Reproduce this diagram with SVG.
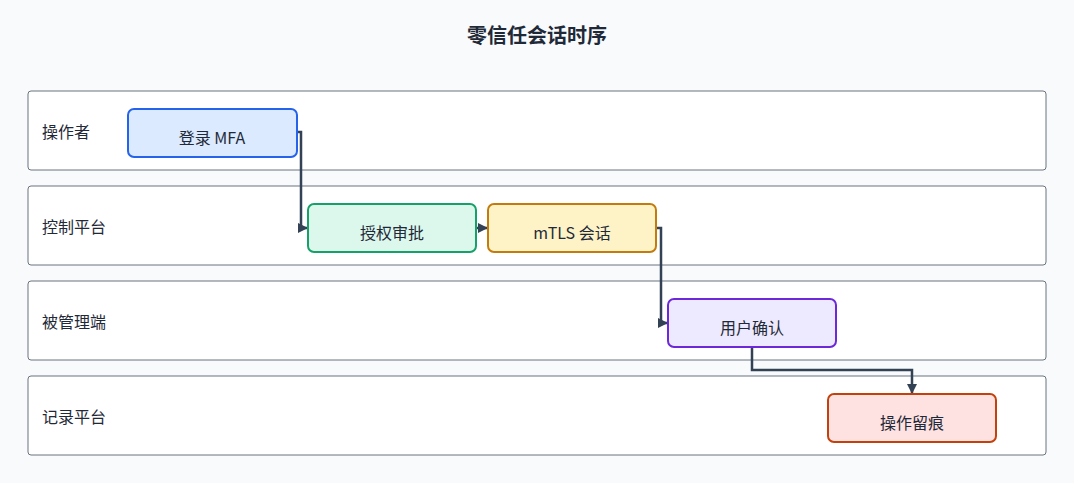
<svg xmlns="http://www.w3.org/2000/svg" width="1074" height="483" viewBox="0 0 1074 483">
<style>
text{font-family:"Noto Sans CJK SC","Noto Sans",sans-serif;fill:#1f2937}
.lane{fill:#fff;stroke:#6b7280;stroke-width:1}
.lt{font-size:16px}
.n{stroke-width:2}
.nt{font-size:16px;text-anchor:middle}
.c{fill:none;stroke:#334155;stroke-width:2.5}
</style>
<defs><marker id="a" viewBox="0 0 10 10" refX="9" refY="5" markerWidth="4" markerHeight="4" orient="auto"><path d="M0,0L10,5L0,10z" fill="#334155"/></marker></defs>
<rect width="1074" height="483" fill="#f8fafc"/>
<text x="537" y="43" font-size="20" font-weight="bold" text-anchor="middle">零信任会话时序</text>
<g id="lanes">
<rect class="lane" x="28" y="91" width="1018" height="79" rx="3"/><text class="lt" x="42" y="138">操作者</text>
<rect class="lane" x="28" y="186" width="1018" height="79" rx="3"/><text class="lt" x="42" y="233">控制平台</text>
<rect class="lane" x="28" y="281" width="1018" height="79" rx="3"/><text class="lt" x="42" y="328">被管理端</text>
<rect class="lane" x="28" y="376" width="1018" height="79" rx="3"/><text class="lt" x="42" y="423">记录平台</text>
</g>
<g id="connectors">
<path class="c" d="M297,132H301V228H307" marker-end="url(#a)"/>
<path class="c" d="M476,228H487" marker-end="url(#a)"/>
<path class="c" d="M656,228H661V323H667" marker-end="url(#a)"/>
<path class="c" d="M752,347V370H912V393" marker-end="url(#a)"/>
</g>
<g id="n1"><rect class="n" x="128" y="109" width="169" height="48" rx="6" fill="#dbeafe" stroke="#2563eb"/><text class="nt" x="212" y="144">登录 MFA</text></g>
<g id="n2"><rect class="n" x="308" y="204" width="168" height="48" rx="6" fill="#dcf7ec" stroke="#16a06a"/><text class="nt" x="392" y="239">授权审批</text></g>
<g id="n3"><rect class="n" x="488" y="204" width="168" height="48" rx="6" fill="#fef3c7" stroke="#c27c0e"/><text class="nt" x="572" y="239">mTLS 会话</text></g>
<g id="n4"><rect class="n" x="668" y="299" width="168" height="48" rx="6" fill="#ede9fe" stroke="#6d28d9"/><text class="nt" x="752" y="334">用户确认</text></g>
<g id="n5"><rect class="n" x="828" y="394" width="168" height="48" rx="6" fill="#fee2e2" stroke="#c2410c"/><text class="nt" x="912" y="429">操作留痕</text></g>
</svg>
